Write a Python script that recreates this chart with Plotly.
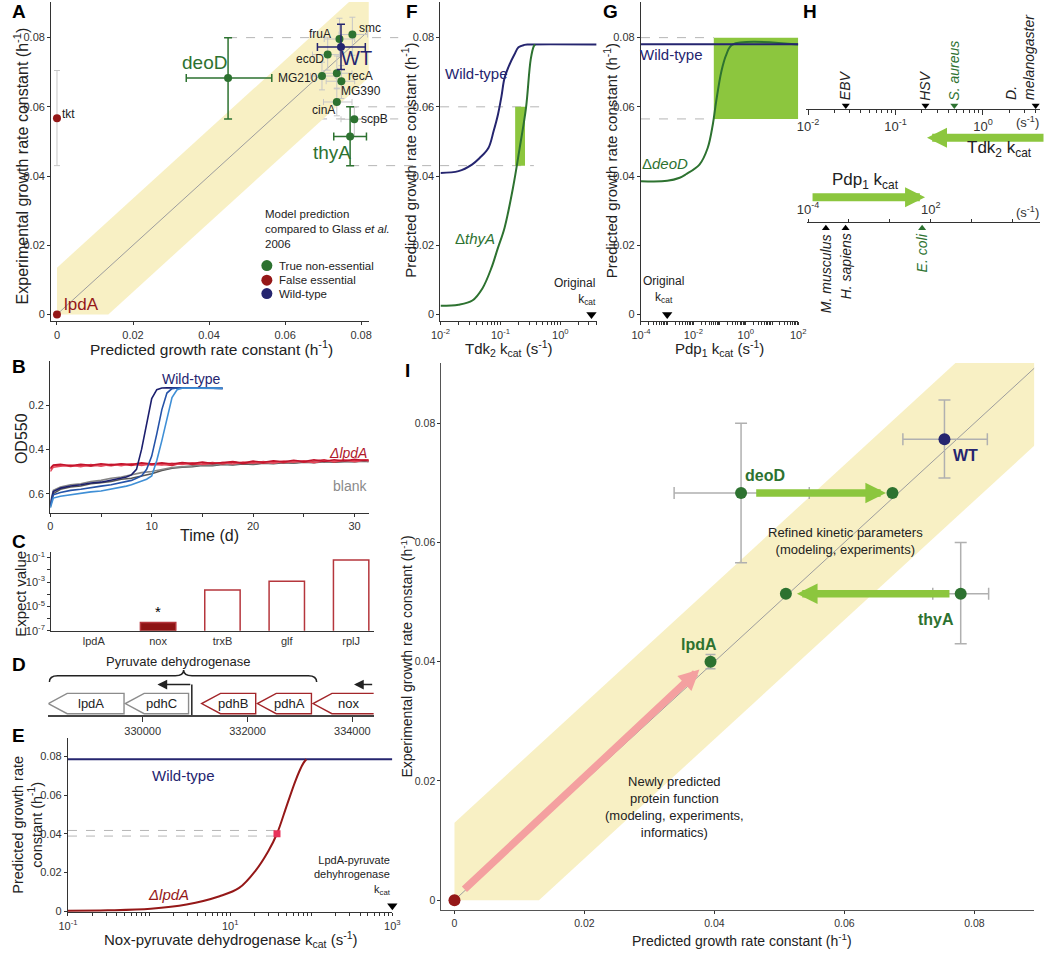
import math
import plotly.graph_objects as go

W, H = 1050, 954
FONT = "Arial, 'Liberation Sans', Helvetica, sans-serif"

NAVY = "#25256f"
DGREEN = "#2d7230"
LGREEN = "#8cc63e"
DRED = "#951818"
RED_OUT = "#b5363c"
PINK = "#f4a0a0"
SQPINK = "#e8325a"
EGRAY = "#c6c6c6"
BAND = "#f8f0c4"
DIAG = "#9d9d9d"
DASH = "#b5b5b5"
AX = "#333333"

# ======================= DATA =======================
# ---- Panel A: predicted vs experimental growth rate ----
a_names = ["fruA", "smc", "ecoD", "MG210", "recA", "MG390", "cinA", "scpB"]
a_pred = [0.0743, 0.0777, 0.0712, 0.0697, 0.0736, 0.0748, 0.0736, 0.0782]
a_exp = [0.0796, 0.0809, 0.0751, 0.0689, 0.0697, 0.0674, 0.0614, 0.0564]
a_pred_lo = [0.0703, 0.0742, 0.0672, 0.0667, 0.0701, 0.0708, 0.0701, 0.0747]
a_pred_hi = [0.0783, 0.0817, 0.0747, 0.0732, 0.0776, 0.0783, 0.0776, 0.0822]
a_exp_lo = [0.0746, 0.0749, 0.0706, 0.0649, 0.0652, 0.0624, 0.0574, 0.0514]
a_exp_hi = [0.0856, 0.0859, 0.0801, 0.0729, 0.0747, 0.0719, 0.0654, 0.0599]

a_key_names = ["deoD", "thyA"]
a_key_pred = [0.0450, 0.0771]
a_key_exp = [0.0683, 0.0514]
a_key_pred_lo = [0.0340, 0.0728]
a_key_pred_hi = [0.0565, 0.0814]
a_key_exp_lo = [0.0565, 0.0430]
a_key_exp_hi = [0.0800, 0.0600]

a_wt = [0.0747, 0.0773]
a_wt_pred_range = [0.0685, 0.0811]
a_wt_exp_range = [0.0708, 0.0839]
a_tkt = [0.0, 0.0567]
a_tkt_exp_range = [0.0430, 0.0705]
a_lpda = [0.0, 0.0]
band_half = 0.0135

legend_labels = ["True non-essential", "False essential", "Wild-type"]

# ---- Panel B: growth curves ----
b_t_long = [0, 0.3, 1, 2, 3, 4, 5, 6, 7, 8, 9, 10, 11, 12, 13, 14, 15, 16, 17, 18,
            19, 20, 21, 22, 23, 24, 25, 26, 27, 28, 29, 30, 31, 31.4]
b_red = [
    [0.490, 0.474, 0.470, 0.477, 0.471, 0.476, 0.469, 0.474, 0.467, 0.472,
     0.465, 0.470, 0.467, 0.472, 0.461, 0.468, 0.465, 0.459, 0.466, 0.457,
     0.464, 0.457, 0.462, 0.455, 0.460, 0.451, 0.458, 0.454, 0.447, 0.456,
     0.449, 0.452, 0.447, 0.450],
    [0.500, 0.480, 0.476, 0.471, 0.478, 0.469, 0.476, 0.467, 0.474, 0.465,
     0.472, 0.465, 0.470, 0.463, 0.468, 0.461, 0.468, 0.463, 0.459, 0.466,
     0.457, 0.462, 0.455, 0.462, 0.453, 0.458, 0.451, 0.460, 0.451, 0.454,
     0.447, 0.455, 0.449, 0.452],
    [0.485, 0.470, 0.467, 0.474, 0.467, 0.472, 0.465, 0.470, 0.465, 0.468,
     0.461, 0.466, 0.461, 0.466, 0.459, 0.464, 0.457, 0.464, 0.459, 0.455,
     0.462, 0.453, 0.458, 0.451, 0.456, 0.449, 0.455, 0.447, 0.454, 0.447,
     0.452, 0.445, 0.450, 0.447],
]
b_blank = [
    [0.660, 0.600, 0.580, 0.570, 0.565, 0.555, 0.550, 0.545, 0.535, 0.530,
     0.520, 0.510, 0.495, 0.485, 0.480, 0.478, 0.472, 0.474, 0.468, 0.470,
     0.466, 0.468, 0.462, 0.465, 0.460, 0.462, 0.458, 0.460, 0.455, 0.458,
     0.455, 0.456, 0.453, 0.455],
    [0.640, 0.585, 0.570, 0.560, 0.555, 0.545, 0.540, 0.530, 0.525, 0.515,
     0.505, 0.500, 0.490, 0.482, 0.478, 0.474, 0.470, 0.470, 0.466, 0.468,
     0.462, 0.465, 0.460, 0.462, 0.457, 0.460, 0.455, 0.458, 0.452, 0.456,
     0.452, 0.455, 0.450, 0.452],
]
b_t_wt = [0, 0.3, 1, 2, 3, 4, 5, 6, 7, 7.5, 8, 8.5, 9, 9.5, 10, 10.5, 11, 11.5,
          12, 12.5, 13, 14, 15, 16, 17]
b_wt = [
    [0.650, 0.590, 0.575, 0.565, 0.560, 0.552, 0.548, 0.540, 0.530, 0.525,
     0.515, 0.490, 0.400, 0.280, 0.170, 0.130, 0.122, 0.121, 0.122, 0.121,
     0.122, 0.123, 0.122, 0.123, 0.124],
    [0.655, 0.605, 0.595, 0.585, 0.580, 0.572, 0.566, 0.560, 0.550, 0.545,
     0.540, 0.530, 0.520, 0.490, 0.430, 0.330, 0.220, 0.145, 0.125, 0.122,
     0.122, 0.123, 0.122, 0.123, 0.124],
    [0.665, 0.620, 0.612, 0.605, 0.600, 0.592, 0.588, 0.580, 0.572, 0.566,
     0.560, 0.552, 0.545, 0.535, 0.520, 0.450, 0.360, 0.260, 0.165, 0.130,
     0.123, 0.123, 0.122, 0.123, 0.124],
]
b_wt_colors = ["#1c1f6e", "#2553a8", "#3f8fd6"]
b_red_colors = ["#d0283a", "#e5485b", "#c2142c"]
b_blank_colors = ["#555555", "#858585"]

# ---- Panel C: BLAST expect values ----
c_genes = ["lpdA", "nox", "trxB", "glf", "rplJ"]
c_evalue = [None, 4.8e-7, 2.2e-4, 1.2e-3, 6.5e-2]

# ---- Panel D: operon map ----
d_genes = ["lpdA", "pdhC", "pdhB", "pdhA", "nox"]
d_left = [328200, 329668, 331125, 332188, 333250]
d_right = [329644, 330875, 332156, 333219, 334700]
d_red = [False, False, True, True, True]
d_ticks = [330000, 332000, 334000]
d_promoter_start = [330937, 334406]
d_promoter_tip = [330281, 334031]
d_brace = [328219, 330781, 333319]

# ---- Panel E ----
e_kcat = [0.1, 0.31, 1.05, 2.9, 7.4, 12.9, 20.6, 29.5, 37.8, 50, 63, 72, 80, 87]
e_mut = [0.0002, 0.0004, 0.0012, 0.0034, 0.0077, 0.012, 0.021, 0.031, 0.040,
         0.0547, 0.0667, 0.0727, 0.0765, 0.0785]
e_wt = 0.0785
e_kcat_range = [0.1, 1000]
e_point = [37.8, 0.040]
e_dash_levels = [0.0417, 0.0388]
e_original = 1000

# ---- Panel F (Tdk2) ----
f_k_wt = [0.01, 0.02, 0.0335, 0.045, 0.063, 0.077, 0.091, 0.104, 0.117, 0.14,
          0.171, 0.2, 0.25, 0.3, 4.0]
f_wt = [0.0409, 0.0414, 0.0433, 0.0452, 0.0481, 0.053, 0.0578, 0.063, 0.0683,
        0.072, 0.0751, 0.0772, 0.0779, 0.078, 0.078]
f_k_mut = [0.01, 0.02, 0.034, 0.05, 0.071, 0.09, 0.117, 0.162, 0.209, 0.267,
           0.32, 0.36, 0.38]
f_mut = [0.0025, 0.0028, 0.0040, 0.0075, 0.0135, 0.019, 0.025, 0.0366, 0.048,
         0.0597, 0.0737, 0.0775, 0.078]
f_rect_k = [0.176, 0.257]
f_rect_g = [0.043, 0.060]
f_original = 3.3

# ---- Panel G (Pdp1) ----
g_k_mut = [1e-4, 1e-3, 3e-3, 5.2e-3, 0.017, 0.035, 0.055, 0.074, 0.117, 0.18, 0.31, 100]
g_mut = [0.0385, 0.0386, 0.0395, 0.0405, 0.0433, 0.0481, 0.0549, 0.0616, 0.0703,
         0.0751, 0.078, 0.078]
g_wt = 0.0781
g_k_range = [1e-4, 100]
g_rect_k = [0.06, 100]
g_rect_g = [0.0565, 0.080]
g_original = 1e-3

# ---- Panel H ----
h_tdk_species = ["<i>EBV</i>", "<i>HSV</i>", "<i>S. aureus</i>", "<i>D.<br>melanogaster</i>"]
h_tdk_kcat = [0.027, 0.22, 0.47, 4.0]
h_tdk_green = [False, False, True, False]
h_pdp_species = ["<i>M. musculus</i>", "<i>H. sapiens</i>", "<i>E. coli</i>"]
h_pdp_kcat = [7.4e-4, 6.8e-3, 38]
h_pdp_green = [False, False, True]

# ---- Panel I ----
i_wt = [0.0754, 0.0773]
i_wt_x = [0.0690, 0.0820]
i_wt_y = [0.0708, 0.0839]
i_deod_old = [0.0441, 0.0683]
i_deod_x = [0.0338, 0.0546]
i_deod_y = [0.0566, 0.0800]
i_deod_new = [0.0674, 0.0683]
i_thya_old = [0.0779, 0.0514]
i_thya_x = [0.0736, 0.0822]
i_thya_y = [0.0430, 0.0600]
i_thya_new = [0.0510, 0.0514]
i_lpda_new = [0.0394, 0.0400]
i_lpda_y = [0.0388, 0.0412]
i_lpda_old = [0.0, 0.0]
i_band_half = 0.013

# ======================= HELPERS =======================
def dx(a, b):
    return [a / W, b / W]


def dy(top, bottom):
    return [1 - bottom / H, 1 - top / H]


annotations = []
shapes = []


def note(t, x, y, xref="paper", yref="paper", size=12, color="black",
         xanchor="center", yanchor="middle", angle=0, align="center", bold=False):
    if bold:
        t = "<b>" + t + "</b>"
    annotations.append(dict(text=t, x=x, y=y, xref=xref, yref=yref, showarrow=False,
                            font=dict(size=size, color=color, family=FONT),
                            xanchor=xanchor, yanchor=yanchor, textangle=angle,
                            align=align))


def pnote(t, xp, yp, **kw):
    note(t, xp / W, 1 - yp / H, **kw)


def axis(domain, rng, **kw):
    d = dict(domain=domain, range=rng, showline=True, linecolor=AX, linewidth=1.3,
             ticks="outside", ticklen=3, tickcolor=AX, tickwidth=1, showgrid=False,
             zeroline=False, tickfont=dict(size=11, color=AX, family=FONT))
    d.update(kw)
    return d


def minor_log(e0, e1):
    return [m * 10 ** e for e in range(e0, e1) for m in range(2, 10)]


def sup(e):
    return "10<sup>%d</sup>" % e


fig = go.Figure()


def add(tr, xa, ya):
    tr.update(xaxis=xa, yaxis=ya, showlegend=False, hoverinfo="skip")
    fig.add_trace(tr)


# ======================= PANEL A =======================
A_XR = [-0.0015, 0.082]
A_YR = [-0.002, 0.0903]
A_DX = dx(42, 365)
bx = [0, 0, 0.2 - band_half, 0.2, 0.2, band_half]
by = [0, band_half, 0.2, 0.2, 0.2 - band_half, 0]
add(go.Scatter(x=bx, y=by, fill="toself", fillcolor=BAND, mode="lines",
               line=dict(width=0)), "x", "y")
add(go.Scatter(x=[0, 0.2], y=[0, 0.2], mode="lines", line=dict(color=DIAG, width=1)), "x", "y")


def errs(v, lo, hi):
    return dict(type="data", symmetric=False,
                array=[h - c for c, h in zip(v, hi)],
                arrayminus=[c - l for c, l in zip(v, lo)])


ex = errs(a_pred, a_pred_lo, a_pred_hi)
ey = errs(a_exp, a_exp_lo, a_exp_hi)
ex.update(color=EGRAY, thickness=1, width=3)
ey.update(color=EGRAY, thickness=1, width=3)
add(go.Scatter(x=a_pred, y=a_exp, mode="markers", marker=dict(color=DGREEN, size=8),
               error_x=ex, error_y=ey, cliponaxis=False), "x", "y")
# tkt
ey = errs([a_tkt[1]], [a_tkt_exp_range[0]], [a_tkt_exp_range[1]])
ey.update(color=EGRAY, thickness=1, width=3)
add(go.Scatter(x=[a_tkt[0]], y=[a_tkt[1]], mode="markers", marker=dict(color=DRED, size=8),
               error_y=ey, cliponaxis=False), "x", "y")
# deoD / thyA
ex = errs(a_key_pred, a_key_pred_lo, a_key_pred_hi)
ey = errs(a_key_exp, a_key_exp_lo, a_key_exp_hi)
ex.update(color=DGREEN, thickness=1.5, width=4)
ey.update(color=DGREEN, thickness=1.5, width=4)
add(go.Scatter(x=a_key_pred, y=a_key_exp, mode="markers", marker=dict(color=DGREEN, size=8),
               error_x=ex, error_y=ey), "x", "y")
# WT
ex = errs([a_wt[0]], [a_wt_pred_range[0]], [a_wt_pred_range[1]])
ey = errs([a_wt[1]], [a_wt_exp_range[0]], [a_wt_exp_range[1]])
ex.update(color=NAVY, thickness=1.5, width=4)
ey.update(color=NAVY, thickness=1.5, width=4)
add(go.Scatter(x=[a_wt[0]], y=[a_wt[1]], mode="markers", marker=dict(color=NAVY, size=8),
               error_x=ex, error_y=ey), "x", "y")
add(go.Scatter(x=[a_lpda[0]], y=[a_lpda[1]], mode="markers", marker=dict(color=DRED, size=8),
               cliponaxis=False), "x", "y")
# legend markers
leg_x = [0.0552] * 3
leg_y = [0.0141, 0.0099, 0.0060]
add(go.Scatter(x=leg_x, y=leg_y, mode="markers",
               marker=dict(color=[DGREEN, DRED, NAVY], size=11)), "x", "y")
for lab, yy in zip(legend_labels, leg_y):
    note(lab, 0.0578, yy, xref="x", yref="y", size=11.5, color="#222", xanchor="left")
note("Model prediction<br>compared to Glass <i>et al.</i><br>2006", 0.0542, 0.0248,
     xref="x", yref="y", size=11.5, color="#222", xanchor="left", align="left")

# small labels (anchor, x, y)
a_lab_pos = [("center", 0.0693, 0.0810), ("left", 0.0790, 0.0829), ("center", 0.0665, 0.0739),
             ("center", 0.0633, 0.0682), ("center", 0.0799, 0.0690), ("center", 0.0800, 0.0646),
             ("center", 0.0702, 0.0590), ("left", 0.0795, 0.0564)]
for nm, (anc, lx, ly) in zip(a_names, a_lab_pos):
    note(nm, lx, ly, xref="x", yref="y", size=12, color="#222", xanchor=anc)
note("tkt", 0.0007, 0.0579, xref="x", yref="y", size=12, color="#222", xanchor="left")
note("deoD", 0.0387, 0.0727, xref="x", yref="y", size=19, color=DGREEN)
note("WT", 0.0789, 0.0741, xref="x", yref="y", size=20, color=NAVY)
note("thyA", 0.0723, 0.0469, xref="x", yref="y", size=19, color=DGREEN)
note("lpdA", 0.0012, 0.0030, xref="x", yref="y", size=17, color=DRED, xanchor="left")

# dashed guide lines crossing into panel F
def a_to_paper(v):
    return A_DX[0] + (v - A_XR[0]) / (A_XR[1] - A_XR[0]) * (A_DX[1] - A_DX[0])


guides = [(a_key_pred[0], a_key_exp_hi[0], 395), (a_key_pred[0], a_key_exp_lo[0], 395),
          (a_key_pred[1], a_key_exp_hi[1], 542), (a_key_pred[1], a_key_exp_lo[1], 533)]
for gx, gy, endpx in guides:
    shapes.append(dict(type="line", xref="paper", yref="y", x0=a_to_paper(gx), x1=endpx / W,
                       y0=gy, y1=gy, line=dict(color=DASH, width=1, dash="dash"), layer="below"))

# ======================= PANEL B =======================
for ys, col in zip(b_blank, b_blank_colors):
    add(go.Scatter(x=b_t_long, y=ys, mode="lines", line=dict(color=col, width=1.6)), "x2", "y2")
for ys, col in zip(b_red, b_red_colors):
    add(go.Scatter(x=b_t_long, y=ys, mode="lines", line=dict(color=col, width=1.6)), "x2", "y2")
for ys, col in zip(b_wt, b_wt_colors):
    add(go.Scatter(x=b_t_wt, y=ys, mode="lines", line=dict(color=col, width=1.6)), "x2", "y2")
note("Wild-type", 13.9, 0.083, xref="x2", yref="y2", size=14, color=NAVY)
note("<i>ΔlpdA</i>", 31.4, 0.418, xref="x2", yref="y2", size=14, color="#b0182a", xanchor="right")
note("blank", 31.4, 0.565, xref="x2", yref="y2", size=14, color="#8a8a8a", xanchor="right")

# ======================= PANEL C =======================
c_fill = ["white" if g != "nox" else "#8e1414" for g in c_genes]
add(go.Bar(x=c_genes, y=c_evalue, width=0.55,
           marker=dict(color=c_fill, line=dict(color=RED_OUT, width=1.5))), "x3", "y3")
note("*", "nox", math.log10(c_evalue[1]), xref="x3", yref="y3", size=15, yanchor="bottom")

# ======================= PANEL D =======================
HEAD = 360
GY0, GY1 = 0.02, 0.34
D_XR = [328200, 334406]
for g, l, r, red in zip(d_genes, d_left, d_right, d_red):
    col = "#a3262a" if red else "#8c8c8c"
    ym = (GY0 + GY1) / 2
    path = "M %d,%.3f L %d,%.3f L %d,%.3f L %d,%.3f L %d,%.3f Z" % (
        r, GY0, r, GY1, l + HEAD, GY1, l, ym, l + HEAD, GY0)
    shapes.append(dict(type="path", xref="x4", yref="y4", path=path,
                       fillcolor="white", line=dict(color=col, width=1.4)))
    vis_r = min(r, D_XR[1])
    note(g, (l + vis_r) / 2 + 90, ym, xref="x4", yref="y4", size=13, color="#222")
# promoter arrows
PY = 0.48
shapes.append(dict(type="line", xref="x4", yref="y4", x0=d_promoter_start[0], x1=d_promoter_start[0],
                   y0=0, y1=PY, line=dict(color="#222", width=1.5)))
for s, t in zip(d_promoter_start, d_promoter_tip):
    annotations.append(dict(x=t, y=PY, ax=s, ay=PY, xref="x4", yref="y4", axref="x4", ayref="y4",
                            showarrow=True, arrowhead=2, arrowsize=1.3, arrowwidth=1.5,
                            arrowcolor="#222", text="", standoff=0))
# brace
b0, bm, b1 = d_brace
path = ("M %d,0.52 Q %d,0.62 %d,0.62 L %d,0.62 Q %d,0.62 %d,0.71 "
        "Q %d,0.62 %d,0.62 L %d,0.62 Q %d,0.62 %d,0.52") % (
    b0, b0, b0 + 160, bm - 160, bm, bm, bm, bm + 160, b1 - 160, b1, b1)
shapes.append(dict(type="path", xref="x4", yref="y4", path=path,
                   line=dict(color="#222", width=1.5)))
note("Pyruvate dehydrogenase", bm - 90, 0.84, xref="x4", yref="y4", size=13, color="#222")

# ======================= PANEL E =======================
for lev in e_dash_levels:
    add(go.Scatter(x=[e_kcat_range[0], e_point[0]], y=[lev, lev], mode="lines",
                   line=dict(color=DASH, width=1, dash="dash")), "x5", "y5")
add(go.Scatter(x=e_kcat_range, y=[e_wt, e_wt], mode="lines", line=dict(color=NAVY, width=2)), "x5", "y5")
add(go.Scatter(x=e_kcat, y=e_mut, mode="lines", line=dict(color=DRED, width=2, shape="spline")), "x5", "y5")
add(go.Scatter(x=[e_point[0]], y=[e_point[1]], mode="markers",
               marker=dict(symbol="square", color=SQPINK, size=7)), "x5", "y5")
add(go.Scatter(x=[e_original], y=[0.0028], mode="markers", cliponaxis=False,
               marker=dict(symbol="triangle-down", color="black", size=9)), "x5", "y5")
note("Wild-type", 0.427, 0.070, xref="x5", yref="y5", size=15, color=NAVY)
note("<i>ΔlpdA</i>", 0.245, 0.0086, xref="x5", yref="y5", size=15, color=DRED)
pnote("LpdA-pyruvate<br>dehyhrogenase<br>k<sub>cat</sub>", 390, 905, size=11, color="#222",
      xanchor="right", yanchor="bottom", align="right")

# ======================= PANEL F =======================
FY = [-0.002, 0.0903]
add(go.Scatter(x=[f_rect_k[0], f_rect_k[1], f_rect_k[1], f_rect_k[0]],
               y=[f_rect_g[0], f_rect_g[0], f_rect_g[1], f_rect_g[1]], fill="toself",
               fillcolor=LGREEN, mode="lines", line=dict(width=0)), "x6", "y6")
add(go.Scatter(x=f_k_wt, y=f_wt, mode="lines", line=dict(color=NAVY, width=2, shape="spline")), "x6", "y6")
add(go.Scatter(x=f_k_mut, y=f_mut, mode="lines", line=dict(color=DGREEN, width=2, shape="spline")), "x6", "y6")
add(go.Scatter(x=[f_original], y=[0.0], mode="markers", cliponaxis=False,
               marker=dict(symbol="triangle-down", color="black", size=9)), "x6", "y6")
note("Wild-type", -1.395, 0.0697, xref="x6", yref="y6", size=15, color=NAVY)
note("Δ<i>thyA</i>", -1.42, 0.0220, xref="x6", yref="y6", size=15, color=DGREEN)
pnote("Original<br>k<sub>cat</sub>", 598, 310, size=12, color="#222", xanchor="right",
      yanchor="bottom", align="right")

# ======================= PANEL G =======================
add(go.Scatter(x=[g_rect_k[0], g_rect_k[1], g_rect_k[1], g_rect_k[0]],
               y=[g_rect_g[0], g_rect_g[0], g_rect_g[1], g_rect_g[1]], fill="toself",
               fillcolor=LGREEN, mode="lines", line=dict(width=0)), "x7", "y7")
for lev in g_rect_g:
    add(go.Scatter(x=[g_k_range[0], g_rect_k[0]], y=[lev, lev], mode="lines",
                   line=dict(color=DASH, width=1, dash="dash")), "x7", "y7")
add(go.Scatter(x=g_k_mut, y=g_mut, mode="lines", line=dict(color=DGREEN, width=2, shape="spline")), "x7", "y7")
add(go.Scatter(x=g_k_range, y=[g_wt, g_wt], mode="lines", line=dict(color=NAVY, width=2)), "x7", "y7")
add(go.Scatter(x=[g_original], y=[0.0], mode="markers", cliponaxis=False,
               marker=dict(symbol="triangle-down", color="black", size=9)), "x7", "y7")
note("Wild-type", -2.83, 0.0750, xref="x7", yref="y7", size=15, color=NAVY)
note("Δ<i>deoD</i>", -3.07, 0.0435, xref="x7", yref="y7", size=15, color=DGREEN)
note("Original<br>k<sub>cat</sub>", math.log10(g_original) - 0.15, 0.0020, xref="x7", yref="y7",
     size=12, color="#222", yanchor="bottom")

# ======================= PANEL H =======================
add(go.Scatter(x=h_tdk_kcat, y=[0.055] * 4, mode="markers", cliponaxis=False,
               marker=dict(symbol="triangle-down", size=7,
                           color=[DGREEN if g else "black" for g in h_tdk_green])), "x8", "y8")
for i, (sp, k, gr) in enumerate(zip(h_tdk_species, h_tdk_kcat, h_tdk_green)):
    last = i == len(h_tdk_species) - 1
    note(sp, math.log10(k) + (0.045 if last else 0), 0.10, xref="x8", yref="y8", size=14, angle=-90,
         color=DGREEN if gr else "#222", yanchor="bottom", align="left",
         xanchor="right" if last else "center")
add(go.Scatter(x=h_pdp_kcat, y=[0.06] * 3, mode="markers", cliponaxis=False,
               marker=dict(symbol="triangle-up", size=7,
                           color=[DGREEN if g else "black" for g in h_pdp_green])), "x9", "y9")
for sp, k, gr in zip(h_pdp_species, h_pdp_kcat, h_pdp_green):
    note(sp, math.log10(k), 0.10, xref="x9", yref="y9", size=14, angle=-90,
         color=DGREEN if gr else "#222", yanchor="top", align="right")
pnote("(s<sup>-1</sup>)", 1035, 121, size=13, color="#333")
pnote("(s<sup>-1</sup>)", 1035, 212, size=13, color="#333")
# big green arrows
annotations.append(dict(x=933 / W, y=1 - 137 / H, xref="paper", yref="paper", ax=118, ay=0,
                        showarrow=True, arrowhead=2, arrowsize=0.5, arrowwidth=8,
                        arrowcolor=LGREEN, text="", standoff=0))
annotations.append(dict(x=931 / W, y=1 - 197 / H, xref="paper", yref="paper", ax=-114, ay=0,
                        showarrow=True, arrowhead=2, arrowsize=0.5, arrowwidth=8,
                        arrowcolor=LGREEN, text="", standoff=0))
pnote("Tdk<sub>2</sub> k<sub>cat</sub>", 1007, 148, size=17, color="#222")
pnote("Pdp<sub>1</sub> k<sub>cat</sub>", 870, 181, size=17, color="#222")

# ======================= PANEL I =======================
bx = [0, 0, 0.2 - i_band_half, 0.2, 0.2, i_band_half]
by = [0, i_band_half, 0.2, 0.2, 0.2 - i_band_half, 0]
add(go.Scatter(x=bx, y=by, fill="toself", fillcolor=BAND, mode="lines",
               line=dict(width=0)), "x10", "y10")
add(go.Scatter(x=[0, 0.2], y=[0, 0.2], mode="lines", line=dict(color=DIAG, width=1)), "x10", "y10")
pts = [(i_wt, i_wt_x, i_wt_y), (i_deod_old, i_deod_x, i_deod_y), (i_thya_old, i_thya_x, i_thya_y)]
for p, xr, yr in pts:
    ex = errs([p[0]], [xr[0]], [xr[1]])
    ey = errs([p[1]], [yr[0]], [yr[1]])
    ex.update(color="#b0b0b0", thickness=1.5, width=6)
    ey.update(color="#b0b0b0", thickness=1.5, width=6)
    add(go.Scatter(x=[p[0]], y=[p[1]], mode="markers", marker=dict(size=1, opacity=0),
                   error_x=ex, error_y=ey), "x10", "y10")
ey = errs([i_lpda_new[1]], [i_lpda_y[0]], [i_lpda_y[1]])
ey.update(color="#b0b0b0", thickness=1.5, width=5)
add(go.Scatter(x=[i_lpda_new[0]], y=[i_lpda_new[1]], mode="markers", marker=dict(size=1, opacity=0),
               error_y=ey), "x10", "y10")


def iarrow(tail, tip, color, width, size):
    annotations.append(dict(x=tip[0], y=tip[1], ax=tail[0], ay=tail[1], xref="x10", yref="y10",
                            axref="x10", ayref="y10", showarrow=True, arrowhead=2,
                            arrowsize=size, arrowwidth=width, arrowcolor=color, text="",
                            standoff=0))


iarrow((i_deod_old[0] + 0.0021, i_deod_old[1]), (i_deod_new[0] - 0.001, i_deod_new[1]), LGREEN, 7.5, 0.55)
iarrow((i_thya_old[0] - 0.0015, i_thya_old[1]), (i_thya_new[0] + 0.0017, i_thya_new[1]), LGREEN, 7.5, 0.55)
iarrow((i_lpda_old[0] + 0.0013, i_lpda_old[1] + 0.0016), (i_lpda_new[0] - 0.0017, i_lpda_new[1] - 0.0013),
       PINK, 7.5, 0.55)
green_pts = [i_deod_old, i_deod_new, i_thya_old, i_thya_new, i_lpda_new]
add(go.Scatter(x=[p[0] for p in green_pts], y=[p[1] for p in green_pts], mode="markers",
               marker=dict(color=DGREEN, size=12)), "x10", "y10")
add(go.Scatter(x=[i_wt[0]], y=[i_wt[1]], mode="markers", marker=dict(color=NAVY, size=12)), "x10", "y10")
add(go.Scatter(x=[i_lpda_old[0]], y=[i_lpda_old[1]], mode="markers", cliponaxis=False,
               marker=dict(color=DRED, size=12)), "x10", "y10")
note("deoD", 0.0478, 0.0712, xref="x10", yref="y10", size=16, color=DGREEN, bold=True)
note("WT", 0.0786, 0.0745, xref="x10", yref="y10", size=16, color=NAVY, bold=True)
note("thyA", 0.0741, 0.0471, xref="x10", yref="y10", size=16, color=DGREEN, bold=True)
note("lpdA", 0.0376, 0.0429, xref="x10", yref="y10", size=16, color=DGREEN, bold=True)
note("Refined kinetic parameters<br>(modeling, experiments)", 0.0602, 0.0603,
     xref="x10", yref="y10", size=13, color="#222")
note("Newly predicted<br>protein function<br>(modeling, experiments,<br>informatics)",
     0.0338, 0.0156, xref="x10", yref="y10", size=13, color="#222")

# ======================= TITLES / LETTERS =======================
pnote("Experimental growth rate constant (h<sup>-1</sup>)", 11, 165, size=16, angle=-90, color="#222")
pnote("Predicted growth rate constant (h<sup>-1</sup>)", 205, 349, size=15.5, color="#222")
pnote("OD550", 11, 440, size=16, angle=-90, color="#222")
pnote("Time (d)", 203, 538, size=16, color="#222")
pnote("Expect value", 11, 597, size=15, angle=-90, color="#222")
pnote("Predicted growth rate<br>constant (h<sup>-1</sup>)", 17, 830, size=14.5, angle=-90, color="#222")
pnote("Nox-pyruvate dehydrogenase k<sub>cat</sub> (s<sup>-1</sup>)", 225, 945, size=15, color="#222")
pnote("Predicted growth rate constant (h<sup>-1</sup>)", 406, 160, size=15, angle=-90, color="#222")
pnote("Tdk<sub>2</sub> k<sub>cat</sub> (s<sup>-1</sup>)", 508, 349, size=15, color="#222")
pnote("Predicted growth rate constant (h<sup>-1</sup>)", 611, 160, size=15, angle=-90, color="#222")
pnote("Pdp<sub>1</sub> k<sub>cat</sub> (s<sup>-1</sup>)", 722, 349, size=15, color="#222")
pnote("Experimental growth rate constant (h<sup>-1</sup>)", 404, 660, size=14, angle=-90, color="#222")
pnote("Predicted growth rate constant (h<sup>-1</sup>)", 745, 946, size=14, color="#222")

for L, xp, yp in [("A", 9, 10), ("B", 9, 368), ("C", 9, 544), ("D", 9, 668), ("E", 9, 740),
                  ("F", 409, 10), ("G", 611, 10), ("H", 814, 10), ("I", 404, 372)]:
    pnote("<b>%s</b>" % L, xp, yp, size=19, color="black")

# ======================= LAYOUT =======================
lin_ticks = [0, 0.02, 0.04, 0.06, 0.08]
small = dict(size=10.5, color=AX, family=FONT)
layout = dict(
    width=W, height=H, margin=dict(l=0, r=0, t=0, b=0),
    paper_bgcolor="white", plot_bgcolor="rgba(0,0,0,0)",
    font=dict(family=FONT, color="#222"), showlegend=False,
    xaxis=axis(A_DX, A_XR, anchor="y", tickvals=lin_ticks),
    yaxis=axis(dy(0, 322), A_YR, anchor="x", tickvals=lin_ticks),
    xaxis2=axis(dx(41, 365), [0, 31.4], anchor="y2", tickvals=[0, 5, 10, 15, 20, 25, 30],
                ticktext=["0", "", "10", "", "20", "", "30"]),
    yaxis2=axis(dy(362, 515), [0.686, 0.0], anchor="x2", tickvals=[0.2, 0.4, 0.6]),
    xaxis3=axis(dx(42, 370), [-0.66, 4.35], anchor="y3", type="category", ticks=""),
    yaxis3=axis(dy(555, 634), [-7, -0.55], anchor="x3", type="log",
                tickvals=[10.0 ** e for e in range(-7, 0)],
                ticktext=[sup(e) if e % 2 else "" for e in range(-7, 0)]),
    xaxis4=axis(dx(39, 370), D_XR, anchor="y4", tickvals=d_ticks,
                ticktext=[str(t) for t in d_ticks], linewidth=2, linecolor="#444", ticklen=5),
    yaxis4=dict(domain=dy(655, 719), range=[0, 1], visible=False, anchor="x4"),
    xaxis5=axis(dx(59, 389), [-1, 3], anchor="y5", type="log",
                tickvals=[10.0 ** e for e in range(-1, 4)],
                ticktext=[sup(e) if e % 2 else "" for e in range(-1, 4)],
                minor=dict(ticks="outside", ticklen=2.5, tickcolor=AX, tickvals=minor_log(-1, 3))),
    yaxis5=axis(dy(742, 918), [-0.0006, 0.0896], anchor="x5", tickvals=lin_ticks),
    xaxis6=axis(dx(438, 597), [-2, 0.607], anchor="y6", type="log",
                tickvals=[0.01, 0.1, 1], ticktext=[sup(-2), sup(-1), sup(0)],
                minor=dict(ticks="outside", ticklen=2.5, tickcolor=AX, tickvals=minor_log(-2, 1))),
    yaxis6=axis(dy(0, 322), FY, anchor="x6", tickvals=lin_ticks),
    xaxis7=axis(dx(642, 802), [-4, 2], anchor="y7", type="log",
                tickvals=[10.0 ** e for e in range(-4, 3)],
                ticktext=[sup(e) if e % 2 == 0 else "" for e in range(-4, 3)],
                minor=dict(ticks="outside", ticklen=2.5, tickcolor=AX, tickvals=minor_log(-4, 2))),
    yaxis7=axis(dy(0, 322), FY, anchor="x7", tickvals=lin_ticks),
    xaxis8=axis(dx(810, 1048), [-2.022, 0.652], anchor="y8", type="log",
                tickvals=[0.01, 0.1, 1], ticktext=[sup(-2), sup(-1), sup(0)], ticklen=5,
                tickfont=dict(size=13, color=AX, family=FONT),
                minor=dict(ticks="outside", ticklen=2.5, tickcolor=AX, tickvals=minor_log(-2, 1))),
    yaxis8=dict(domain=dy(40, 108), range=[0, 1], visible=False, anchor="x8"),
    xaxis9=axis(dx(811, 1048), [-4.05, 7.35], anchor="y9", type="log", side="top",
                tickvals=[10.0 ** e for e in range(-4, 7, 2)],
                ticktext=[sup(e) if e in (-4, 2) else "" for e in range(-4, 7, 2)],
                tickfont=dict(size=13, color=AX, family=FONT)),
    yaxis9=dict(domain=dy(223, 310), range=[1, 0], visible=False, anchor="x9"),
    xaxis10=axis(dx(439, 1042), [-0.002, 0.0892], anchor="y10", tickvals=lin_ticks,
                 tickfont=small, linecolor="#555"),
    yaxis10=axis(dy(364, 916), [-0.0017, 0.0901], anchor="x10", tickvals=lin_ticks,
                 tickfont=small, linecolor="#555"),
    annotations=annotations, shapes=shapes,
)
fig.update_layout(**layout)
fig.write_html("out.html", config={"displayModeBar": False},
               post_script="document.body.style.margin='0';document.body.style.overflow='hidden';")
